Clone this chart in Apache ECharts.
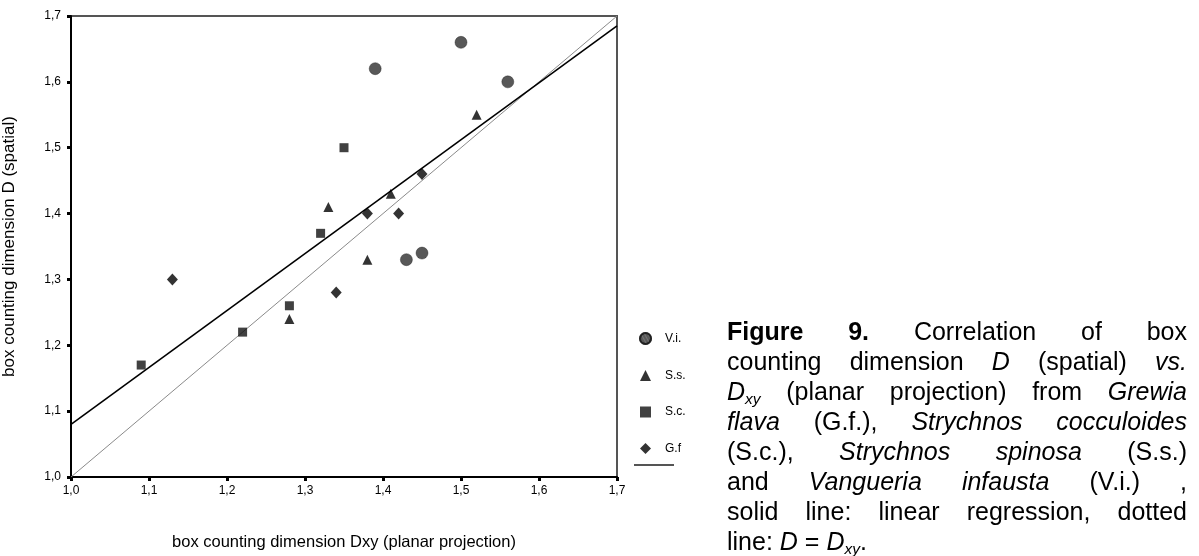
<!DOCTYPE html>
<html>
<head>
<meta charset="utf-8">
<script src="https://cdn.jsdelivr.net/npm/echarts@6/dist/echarts.min.js"></script>
<style>
  html, body { margin: 0; padding: 0; background: #fff; }
  #wrap { position: relative; width: 1199px; height: 556px; overflow: hidden; }
  #chart { position: absolute; left: 0; top: 0; width: 1199px; height: 556px; }
  #caption {
    position: absolute; left: 727px; top: 316px; width: 460px;
    font-family: "Liberation Sans", Arial, sans-serif; font-size: 25px;
    line-height: 30px; color: #000;
  }
  #caption .ln { text-align: justify; text-align-last: justify; white-space: nowrap; }
  #caption .ln.last { text-align-last: left; }
  #caption sub { font-size: 0.62em; vertical-align: -0.25em; line-height: 0; }
</style>
</head>
<body>
<div id="wrap">
  <div id="chart"></div>
  <div id="caption">
    <div class="ln"><b>Figure 9.</b> Correlation of box</div>
    <div class="ln">counting dimension <i>D</i> (spatial) <i>vs.</i></div>
    <div class="ln"><i>D<sub>xy</sub></i> (planar projection) from <i>Grewia</i></div>
    <div class="ln"><i>flava</i> (G.f.), <i>Strychnos cocculoides</i></div>
    <div class="ln">(S.c.), <i>Strychnos spinosa</i> (S.s.)</div>
    <div class="ln">and <i>Vangueria infausta</i> (V.i.) ,</div>
    <div class="ln">solid line: linear regression, dotted</div>
    <div class="ln last">line: <i>D</i> = <i>D<sub>xy</sub></i>.</div>
  </div>
</div>
<script>
// Box counting dimension: planar projection Dxy (x) vs. spatial D (y)
const viData = [[1.39, 1.62], [1.50, 1.66], [1.56, 1.60], [1.43, 1.33], [1.45, 1.34]];
const ssData = [[1.52, 1.55], [1.41, 1.43], [1.33, 1.41], [1.38, 1.33], [1.28, 1.24]];
const scData = [[1.35, 1.50], [1.32, 1.37], [1.09, 1.17], [1.22, 1.22], [1.28, 1.26]];
const gfData = [[1.45, 1.46], [1.38, 1.40], [1.42, 1.40], [1.13, 1.30], [1.34, 1.28]];

// Linear regression (solid) and identity D = Dxy (thin)
const regressionLine = [[1.0, 1.08], [1.7, 1.685]];
const identityLine = [[1.0, 1.0], [1.7, 1.7]];

const xTickLabels = ['1,0', '1,1', '1,2', '1,3', '1,4', '1,5', '1,6', '1,7'];
const yTickLabels = ['1,0', '1,1', '1,2', '1,3', '1,4', '1,5', '1,6', '1,7'];

const FONT = '"Liberation Sans", Arial, sans-serif';
const tickIndex = v => Math.round((v - 1.0) * 10);

const chart = echarts.init(document.getElementById('chart'), null, { renderer: 'canvas' });

const axisCommon = {
  type: 'value', min: 1.0, max: 1.7, interval: 0.1,
  axisLine: { show: true, lineStyle: { color: '#000', width: 2 } },
  axisTick: { show: true, inside: false, length: 4, lineStyle: { color: '#000', width: 3 } },
  splitLine: { show: false },
  nameLocation: 'middle'
};

chart.setOption({
  animation: false,
  backgroundColor: '#fff',
  grid: { left: 70, top: 16, width: 547, height: 467, show: true, borderColor: '#555', borderWidth: 2 },
  xAxis: Object.assign({}, axisCommon, {
    name: 'box counting dimension Dxy (planar projection)',
    nameGap: 57,
    nameTextStyle: { color: '#000', fontSize: 16.5, fontFamily: FONT },
    axisLabel: { color: '#000', fontSize: 12, fontFamily: FONT, margin: 8,
      formatter: v => xTickLabels[tickIndex(v)] }
  }),
  yAxis: Object.assign({}, axisCommon, {
    name: 'box counting dimension D (spatial)',
    nameGap: 53,
    nameTextStyle: { color: '#000', fontSize: 17, fontFamily: FONT },
    axisLabel: { color: '#000', fontSize: 12, fontFamily: FONT, margin: 10,
      formatter: v => yTickLabels[tickIndex(v)] }
  }),
  legend: [
    {
      data: ['V.i.', 'S.s.', 'S.c.', 'G.f'],
      orient: 'vertical', left: 634, top: 327,
      itemWidth: 11, itemHeight: 11, itemGap: 24.5,
      textStyle: { color: '#000', fontSize: 12, fontFamily: FONT, padding: [0, 0, 0, 9] },
      selectedMode: false
    },
    {
      data: [{ name: 'regression', icon: 'rect' }],
      orient: 'vertical', left: 629, top: 459,
      itemWidth: 40, itemHeight: 2,
      formatter: () => '',
      itemStyle: { color: '#555' },
      selectedMode: false
    }
  ],
  series: [
    {
      name: 'identity', type: 'line', data: identityLine, symbol: 'none',
      lineStyle: { color: '#8a8a8a', width: 1 }, z: 2, silent: true
    },
    {
      name: 'regression', type: 'line', data: regressionLine, symbol: 'none',
      lineStyle: { color: '#000', width: 1.6 }, itemStyle: { color: '#555' }, z: 2, silent: true
    },
    {
      name: 'V.i.', type: 'scatter', data: viData, symbol: 'circle', symbolSize: 12,
      itemStyle: {
        color: '#2e2e2e', borderColor: '#1a1a1a', borderWidth: 0.5,
        decal: { symbol: 'rect', symbolSize: 1, dashArrayX: [[1, 2]], dashArrayY: [3, 0],
                 rotation: -0.5, color: 'rgba(150,150,150,0.55)' }
      }, z: 3
    },
    {
      name: 'S.s.', type: 'scatter', data: ssData, symbol: 'triangle', symbolSize: 10,
      itemStyle: { color: '#000' }, z: 3
    },
    {
      name: 'S.c.', type: 'scatter', data: scData, symbol: 'rect', symbolSize: 9,
      itemStyle: { color: '#111' }, z: 3
    },
    {
      name: 'G.f', type: 'scatter', data: gfData, symbol: 'diamond', symbolSize: [11, 12],
      itemStyle: { color: '#000' }, z: 3
    }
  ]
});
</script>
</body>
</html>
